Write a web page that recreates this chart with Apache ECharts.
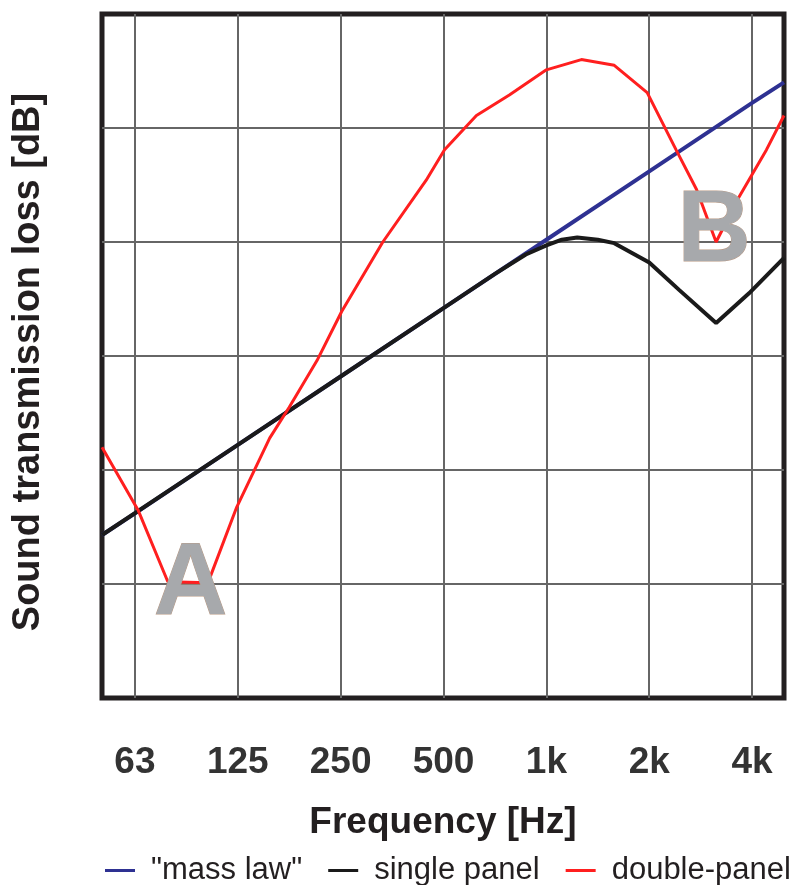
<!DOCTYPE html>
<html>
<head>
<meta charset="utf-8">
<script src="https://cdn.jsdelivr.net/npm/echarts@6/dist/echarts.min.js"></script>
<style>
  html, body { margin: 0; padding: 0; background: #fff; }
  #chart { width: 803px; height: 885px; }
</style>
</head>
<body>
<div id="chart"></div>
<script>
// x is measured in octaves above 63 Hz, so 63 = 0, 125 = 1, ... 4k = 6
const octaves = [0, 1, 2, 3, 4, 5, 6];
const freqLabels = ['63', '125', '250', '500', '1k', '2k', '4k'];

// "mass law" (6 dB per octave)
const massLawX = [-0.32, 0, 1, 2, 3, 4, 5, 6, 6.31];
const massLawY = [14.3, 16.2, 22.2, 28.2, 34.2, 40.2, 46.2, 52.2, 54.0];

// single panel (coincidence dip near 3k)
const singleX = [-0.32, 1, 2, 3, 3.5, 3.64, 3.8, 4.0, 4.15, 4.3, 4.5, 4.66, 5.0, 5.29, 5.65, 5.97, 6.31];
const singleY = [14.3, 22.2, 28.2, 34.2, 37.2, 38.0, 38.9, 39.7, 40.2, 40.4, 40.2, 39.9, 38.2, 35.8, 32.9, 35.5, 38.6];

// double-panel (mass-spring-mass dip A, coincidence dip B)
const doubleX = [-0.32, 0.03, 0.32, 0.71, 0.99, 1.31, 1.50, 1.77, 2.01, 2.41, 2.83, 3.01, 3.32, 3.64, 4.0, 4.34, 4.66, 4.98, 5.26, 5.46, 5.65, 5.87, 6.14, 6.31];
const doubleY = [22.0, 16.5, 10.2, 10.1, 16.75, 22.8, 25.5, 29.6, 33.9, 40.0, 45.4, 48.1, 51.1, 52.9, 55.1, 56.0, 55.5, 53.1, 48.1, 44.6, 40.0, 43.9, 48.1, 51.1];

// letters marking the two dips
const dipNames = ['A', 'B'];
const dipX = [0.54, 5.63];
const dipY = [9.8, 40.8];

const zip = (xs, ys) => xs.map((x, i) => [x, ys[i]]);

const chart = echarts.init(document.getElementById('chart'));

const option = {
  animation: false,
  backgroundColor: '#ffffff',
  textStyle: { fontFamily: 'Liberation Sans, Arial, sans-serif' },
  grid: {
    left: 102,
    right: 19,
    top: 14,
    bottom: 187,
    show: true,
    borderColor: '#231f20',
    borderWidth: 5,
    outerBoundsMode: 'none'
  },
  legend: {
    left: 100,
    top: 850,
    icon: 'rect',
    itemWidth: 30,
    itemHeight: 3,
    itemGap: 26,
    textStyle: {
      fontSize: 31,
      color: '#231f20',
      padding: [0, 0, 0, 11]
    },
    data: ['"mass law"', 'single panel', 'double-panel']
  },
  xAxis: {
    type: 'value',
    min: -0.32,
    max: 6.31,
    name: 'Frequency [Hz]',
    nameLocation: 'middle',
    nameGap: 106,
    nameTextStyle: {
      fontSize: 37,
      fontWeight: 'bold',
      color: '#231f20'
    },
    axisLine: { show: false },
    axisTick: { show: false, customValues: octaves },
    splitLine: {
      show: true,
      lineStyle: { color: '#666666', width: 2 }
    },
    axisLabel: {
      customValues: octaves,
      margin: 46,
      fontSize: 37,
      fontWeight: 'bold',
      color: '#333333',
      formatter: (v) => freqLabels[Math.round(v)]
    }
  },
  yAxis: {
    type: 'value',
    min: 0,
    max: 60,
    interval: 10,
    name: 'Sound transmission loss [dB]',
    nameLocation: 'middle',
    nameRotate: 90,
    nameGap: 54,
    nameTextStyle: {
      fontSize: 38,
      fontWeight: 'bold',
      color: '#231f20',
      padding: [0, 12, 0, 0]
    },
    axisLine: { show: false },
    axisTick: { show: false },
    axisLabel: { show: false },
    splitLine: {
      show: true,
      showMinLine: false,
      showMaxLine: false,
      lineStyle: { color: '#666666', width: 2 }
    }
  },
  series: [
    {
      name: '"mass law"',
      type: 'line',
      data: zip(massLawX, massLawY),
      showSymbol: false,
      color: '#2e3192',
      lineStyle: { color: '#2e3192', width: 4 },
      z: 2
    },
    {
      name: 'single panel',
      type: 'line',
      data: zip(singleX, singleY),
      showSymbol: false,
      color: '#1a1a1a',
      lineStyle: { color: '#1a1a1a', width: 4 },
      z: 3
    },
    {
      name: 'double-panel',
      type: 'line',
      data: zip(doubleX, doubleY),
      showSymbol: false,
      color: '#ff1f1f',
      lineStyle: { color: '#ff1f1f', width: 3 },
      z: 4,
      markPoint: {
        symbol: 'circle',
        symbolSize: 0,
        z: 10,
        label: {
          show: true,
          position: 'inside',
          fontSize: 102,
          fontWeight: 'bold',
          color: '#a7a9ac',
          textBorderColor: '#b89a86',
          textBorderWidth: 1,
          formatter: (p) => p.name
        },
        data: dipNames.map((n, i) => ({ name: n, coord: [dipX[i], dipY[i]] }))
      }
    }
  ]
};

chart.setOption(option);
</script>
</body>
</html>
